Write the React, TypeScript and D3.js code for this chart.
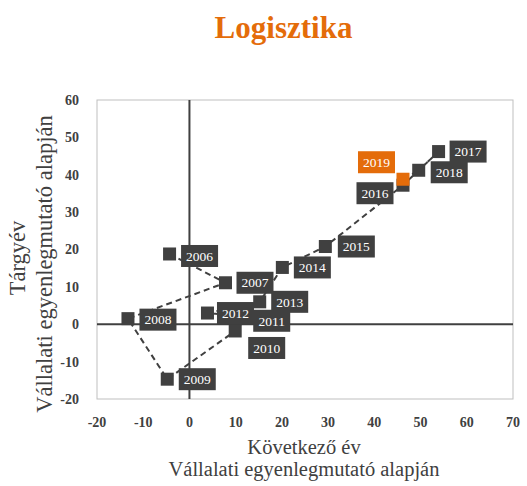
import React from "react";
import * as d3 from "d3";

const years = [2006, 2007, 2008, 2009, 2010, 2011, 2012, 2013, 2014, 2015, 2016, 2017, 2018, 2019];
const nextYear = [-4.3, 7.8, -13.3, -4.8, 9.9, 12.5, 3.9, 15.2, 20.1, 29.4, 46.2, 53.9, 49.6, 46.2];
const targetYear = [18.8, 11.1, 1.5, -14.7, -1.8, 2.0, 3.0, 6.0, 15.2, 20.8, 37.2, 46.2, 41.2, 38.8];
const highlightYear = 2019;
const xTicks = [-20, -10, 0, 10, 20, 30, 40, 50, 60, 70];
const yTicks = [-20, -10, 0, 10, 20, 30, 40, 50, 60];
// label box centre offsets from marker centre (px)
const labelDx = [30, 29.5, 30, 30, 31.5, 24.5, 28, 30, 30, 31, -28, 29.5, 30.5, -26.5];
const labelDy = [2, 0, 1, 0, 17, 4, 0, 0, 0, 0, 8, 0, 2, -17];

const title = "Logisztika";
const xTitle = ["Következő év", "Vállalati egyenlegmutató alapján"];
const yTitle = ["Tárgyév", "Vállalati egyenlegmutató alapján"];

const W = 527, H = 486;
const FONT = "'Liberation Serif', 'Times New Roman', serif";
const DARK = "#404040";
const ORANGE = "#E46C0A";

export default function App() {
  const x = d3.scaleLinear().domain([-20, 70]).range([97, 513]);
  const y = d3.scaleLinear().domain([-20, 60]).range([399, 100]);
  const pts = years.map((yr, i) => ({ yr, px: x(nextYear[i]), py: y(targetYear[i]), i }));
  const line = d3.line<{ px: number; py: number }>().x(d => d.px).y(d => d.py);
  const M = 13;
  const BW = 37, BH = 22;
  return (
    <div style={{ position: "absolute", left: 0, top: 0 }}>
      <svg width={W} height={H} style={{ display: "block", background: "#fff" }}>
        <text x={283.5} y={38.3} textAnchor="middle" fontFamily={FONT} fontWeight="bold" fontSize={31} fill={ORANGE}>{title}</text>
        {/* plot border */}
        <rect x={97} y={100} width={416} height={299} fill="none" stroke="#bfbfbf" strokeWidth={1} />
        {/* zero axes */}
        <line x1={x(0)} x2={x(0)} y1={y(60)} y2={y(-20)} stroke={DARK} strokeWidth={2} />
        <line x1={x(-20)} x2={x(70)} y1={y(0)} y2={y(0)} stroke={DARK} strokeWidth={2} />
        {/* ticks */}
        {xTicks.map(t => (
          <text key={"x" + t} x={x(t)} y={426.5} textAnchor="middle" fontFamily={FONT} fontWeight="bold" fontSize={14} fill={DARK}>{t}</text>
        ))}
        {yTicks.map(t => (
          <text key={"y" + t} x={79} y={y(t)} dy="0.35em" textAnchor="end" fontFamily={FONT} fontWeight="bold" fontSize={14} fill={DARK}>{t}</text>
        ))}
        {/* axis titles */}
        <text x={304} y={454} textAnchor="middle" fontFamily={FONT} fontSize={20.5} fill={DARK}>{xTitle[0]}</text>
        <text x={304} y={475.5} textAnchor="middle" fontFamily={FONT} fontSize={20.5} fill={DARK}>{xTitle[1]}</text>
        <text transform={`translate(25,258) rotate(-90)`} textAnchor="middle" fontFamily={FONT} fontSize={22.5} fill={DARK}>{yTitle[0]}</text>
        <text transform={`translate(51.5,264) rotate(-90)`} textAnchor="middle" fontFamily={FONT} fontSize={22.5} fill={DARK}>{yTitle[1]}</text>
        {/* connecting line */}
        <path d={line(pts) || ""} fill="none" stroke={DARK} strokeWidth={2} strokeDasharray="6,4" />
        {/* markers */}
        {pts.map(p => (
          <rect key={"m" + p.yr} x={p.px - M / 2} y={p.py - M / 2} width={M} height={M}
            fill={p.yr === highlightYear ? ORANGE : DARK} />
        ))}
        {/* labels */}
        {pts.map(p => {
          const cx = p.px + labelDx[p.i];
          const cy = p.py + labelDy[p.i];
          const hl = p.yr === highlightYear;
          return (
            <g key={"l" + p.yr}>
              <rect x={cx - BW / 2} y={cy - BH / 2} width={BW} height={BH} fill={hl ? ORANGE : DARK} />
              <text x={cx} y={cy} dy="0.35em" textAnchor="middle" fontFamily={FONT} fontSize={13.5} fill="#fff">{p.yr}</text>
            </g>
          );
        })}
      </svg>
    </div>
  );
}
